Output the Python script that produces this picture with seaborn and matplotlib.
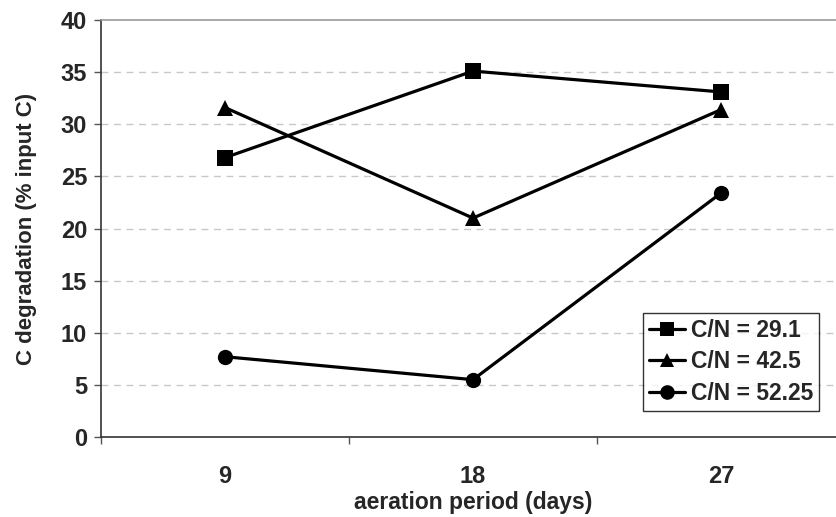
import matplotlib
matplotlib.use("Agg")
import matplotlib.pyplot as plt
from matplotlib.ticker import FixedLocator
import pandas as pd
import seaborn as sns

# Aeration periods (days) and C degradation (% of input C) per C/N ratio
periods = ["9", "18", "27"]
series_names = ["C/N = 29.1", "C/N = 42.5", "C/N = 52.25"]
cn_29_1 = [26.8, 35.1, 33.1]
cn_42_5 = [31.6, 21.0, 31.4]
cn_52_25 = [7.7, 5.5, 23.4]
y_ticks = [0, 5, 10, 15, 20, 25, 30, 35, 40]

rows = []
for name, vals in zip(series_names, [cn_29_1, cn_42_5, cn_52_25]):
    for p, v in zip(periods, vals):
        rows.append({"period": p, "degradation": v, "series": name})
df = pd.DataFrame(rows)

sns.set_style("white")
plt.rcParams["font.family"] = ["Liberation Sans", "DejaVu Sans"]
plt.rcParams["font.weight"] = "bold"

fig = plt.figure(figsize=(8.37, 5.17), dpi=100)
ax = fig.add_axes([101 / 837, 80 / 517, 744 / 837, 417 / 517])

sns.lineplot(
    data=df, x="period", y="degradation", hue="series", style="series",
    hue_order=series_names, style_order=series_names,
    palette=["black"] * 3,
    markers={"C/N = 29.1": "s", "C/N = 42.5": "^", "C/N = 52.25": "o"},
    dashes=False, linewidth=2.3, markersize=11, markeredgewidth=0,
    ax=ax, sort=False,
)

ax.set_xlim(-0.5, 2.5)
ax.set_ylim(0, 40)
ax.set_yticks(y_ticks)
ax.set_yticklabels([str(t) for t in y_ticks], fontsize=17, fontweight="bold")
ax.set_xticks(range(len(periods)))
ax.set_xticklabels(periods, fontsize=17, fontweight="bold")
ax.xaxis.set_minor_locator(FixedLocator([-0.5, 0.5, 1.5, 2.5]))
ax.tick_params(axis="x", which="major", length=0, pad=20)
ax.tick_params(axis="x", which="minor", bottom=True, length=5, width=1, color="#555555")
ax.tick_params(axis="y", left=True, length=5, width=1, color="#555555", pad=5)

for y in y_ticks[1:-1]:
    ax.axhline(y, color="#c8c8c8", linewidth=1, linestyle=(0, (5, 4)), zorder=0)

for side in ["left", "bottom"]:
    ax.spines[side].set_color("#333333")
    ax.spines[side].set_linewidth(1.2)
ax.spines["top"].set_color("#999999")
ax.spines["top"].set_linewidth(1.2)
ax.spines["right"].set_visible(False)

ax.set_xlabel("aeration period (days)", fontsize=16.5, fontweight="bold", labelpad=2)
ax.set_ylabel("C degradation (% input C)", fontsize=16, fontweight="bold", labelpad=17)

leg = ax.legend(
    loc="upper left", bbox_to_anchor=(643 / 837, 1 - 313 / 517),
    bbox_transform=fig.transFigure, frameon=True, fancybox=False,
    prop={"family": "Liberation Sans", "weight": "bold", "size": 16.5},
    handlelength=1.6, handletextpad=0.25, borderpad=0.25, labelspacing=0.38,
    borderaxespad=0,
)
leg.get_frame().set_edgecolor("black")
leg.get_frame().set_linewidth(1)
for h in leg.legend_handles:
    h.set_linewidth(2.3)
    h.set_markersize(10.5)

fig.savefig("out.png", dpi=100)
